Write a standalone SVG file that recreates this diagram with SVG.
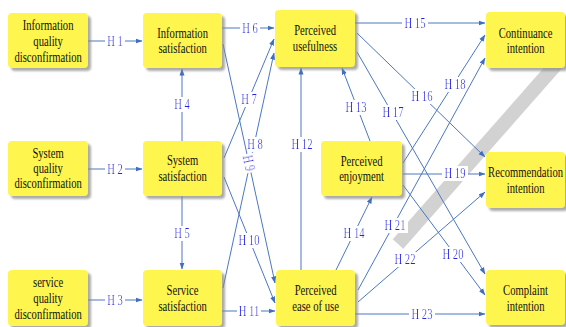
<svg xmlns="http://www.w3.org/2000/svg" width="566" height="327" viewBox="0 0 566 327">
<defs>
<filter id="sh" x="-10%" y="-10%" width="130%" height="130%">
<feDropShadow dx="3" dy="3" stdDeviation="1.2" flood-color="#888" flood-opacity="0.7"/>
</filter>
<filter id="bg" x="-0.08" y="0.05" width="1.16" height="0.9">
<feFlood flood-color="#fff"/>
<feComposite in="SourceGraphic"/>
</filter>
<marker id="ah" markerWidth="7" markerHeight="6" refX="6.5" refY="3" orient="auto" markerUnits="userSpaceOnUse">
<path d="M0,0.5 L7,3 L0,5.5 Z" fill="#3f6fc0"/>
</marker>
<style>
.box{fill:#fff550;filter:url(#sh)}
.t{font-family:"Liberation Serif","Times New Roman",serif;font-size:14px;fill:#111;text-anchor:middle;transform-box:fill-box;transform-origin:center;transform:scaleX(.76)}
.c path{fill:none;stroke:#4a78c0;stroke-width:1;marker-end:url(#ah)}
.l{font-family:"Liberation Serif","Times New Roman",serif;font-size:14px;fill:#2424e8;text-anchor:middle;filter:url(#bg);transform-box:fill-box;transform-origin:center;transform:scaleX(.76)}
</style>
</defs>
<rect width="566" height="327" fill="#fff"/>
<line x1="560" y1="60" x2="398" y2="244" stroke="#d2d2d2" stroke-width="14"/>
<g id="connectors" class="c">
<g id="h1"><path d="M88,41 H142"/><text class="l" x="115" y="46">H 1</text></g>
<g id="h2"><path d="M88,169 H142"/><text class="l" x="115" y="174">H 2</text></g>
<g id="h3"><path d="M88,300 H142"/><text class="l" x="115" y="305">H 3</text></g>
<g id="h4"><path d="M182,141 V69"/><text class="l" x="182" y="109">H 4</text></g>
<g id="h5"><path d="M182,196 V269"/><text class="l" x="182" y="238">H 5</text></g>
<g id="h6"><path d="M222,28 H274"/><text class="l" x="250" y="33">H 6</text></g>
<g id="h7"><path d="M224,158 L274,39"/><text class="l" x="249" y="104">H 7</text></g>
<g id="h8"><path d="M223,288 L274,53"/><text class="l" x="255" y="149">H 8</text></g>
<g id="h9"><path d="M223,44 L275,283"/><g transform="rotate(78 249 163)"><text class="l" x="249" y="168">H 9</text></g></g>
<g id="h10"><path d="M224,177 L275,303"/><text class="l" x="249" y="245">H 10</text></g>
<g id="h11"><path d="M222,311 H275"/><text class="l" x="249" y="316">H 11</text></g>
<g id="h12"><path d="M301,270 V68"/><text class="l" x="302" y="149">H 12</text></g>
<g id="h13"><path d="M370,141 L342,68"/><text class="l" x="356" y="112">H 13</text></g>
<g id="h14"><path d="M336,270 L372,197"/><text class="l" x="354" y="238">H 14</text></g>
<g id="h15"><path d="M355,23 H485"/><text class="l" x="415" y="28">H 15</text></g>
<g id="h16"><path d="M357,33 L485,157"/><text class="l" x="422" y="101">H 16</text></g>
<g id="h17"><path d="M357,52 L485,274"/><text class="l" x="393" y="117">H 17</text></g>
<g id="h18"><path d="M403,163 L485,35"/><text class="l" x="455" y="89">H 18</text></g>
<g id="h19"><path d="M403,174 H485"/><text class="l" x="455" y="178">H 19</text></g>
<g id="h20"><path d="M403,185 L485,295"/><text class="l" x="453" y="259">H 20</text></g>
<g id="h21"><path d="M358,290 L485,58"/><text class="l" x="395" y="230">H 21</text></g>
<g id="h22"><path d="M358,302 L485,192"/><text class="l" x="405" y="264">H 22</text></g>
<g id="h23"><path d="M355,314 H485"/><text class="l" x="422" y="319">H 23</text></g>
</g>
<g id="n-info-quality"><rect class="box" x="8" y="13" width="80" height="55" rx="4"/><text class="t" x="48" y="30">Information</text><text class="t" x="48" y="46">quality</text><text class="t" x="48" y="62">disconfirmation</text></g>
<g id="n-system-quality"><rect class="box" x="8" y="141" width="80" height="55" rx="4"/><text class="t" x="48" y="158">System</text><text class="t" x="48" y="173">quality</text><text class="t" x="48" y="188">disconfirmation</text></g>
<g id="n-service-quality"><rect class="box" x="8" y="270" width="80" height="56" rx="4"/><text class="t" x="48" y="287">service</text><text class="t" x="48" y="303">quality</text><text class="t" x="48" y="319">disconfirmation</text></g>
<g id="n-info-sat"><rect class="box" x="143" y="13" width="79" height="55" rx="4"/><text class="t" x="182.5" y="38">Information</text><text class="t" x="182.5" y="53">satisfaction</text></g>
<g id="n-system-sat"><rect class="box" x="143" y="141" width="79" height="55" rx="4"/><text class="t" x="182.5" y="165">System</text><text class="t" x="182.5" y="181">satisfaction</text></g>
<g id="n-service-sat"><rect class="box" x="143" y="270" width="79" height="56" rx="4"/><text class="t" x="182.5" y="295">Service</text><text class="t" x="182.5" y="311">satisfaction</text></g>
<g id="n-usefulness"><rect class="box" x="275" y="10" width="80" height="57" rx="4"/><text class="t" x="315" y="35">Perceived</text><text class="t" x="315" y="51">usefulness</text></g>
<g id="n-enjoyment"><rect class="box" x="321" y="141" width="81" height="55" rx="4"/><text class="t" x="361.5" y="166">Perceived</text><text class="t" x="361.5" y="181">enjoyment</text></g>
<g id="n-ease"><rect class="box" x="276" y="270" width="79" height="56" rx="4"/><text class="t" x="315.5" y="295">Perceived</text><text class="t" x="315.5" y="311">ease of use</text></g>
<g id="n-continuance"><rect class="box" x="486" y="12" width="79" height="56" rx="4"/><text class="t" x="525.5" y="38">Continuance</text><text class="t" x="525.5" y="53">intention</text></g>
<g id="n-recommendation"><rect class="box" x="486" y="152" width="79" height="56" rx="4"/><text class="t" x="525.5" y="177">Recommendation</text><text class="t" x="525.5" y="193">intention</text></g>
<g id="n-complaint"><rect class="box" x="486" y="270" width="79" height="55" rx="4"/><text class="t" x="525.5" y="295">Complaint</text><text class="t" x="525.5" y="311">intention</text></g>
</svg>
